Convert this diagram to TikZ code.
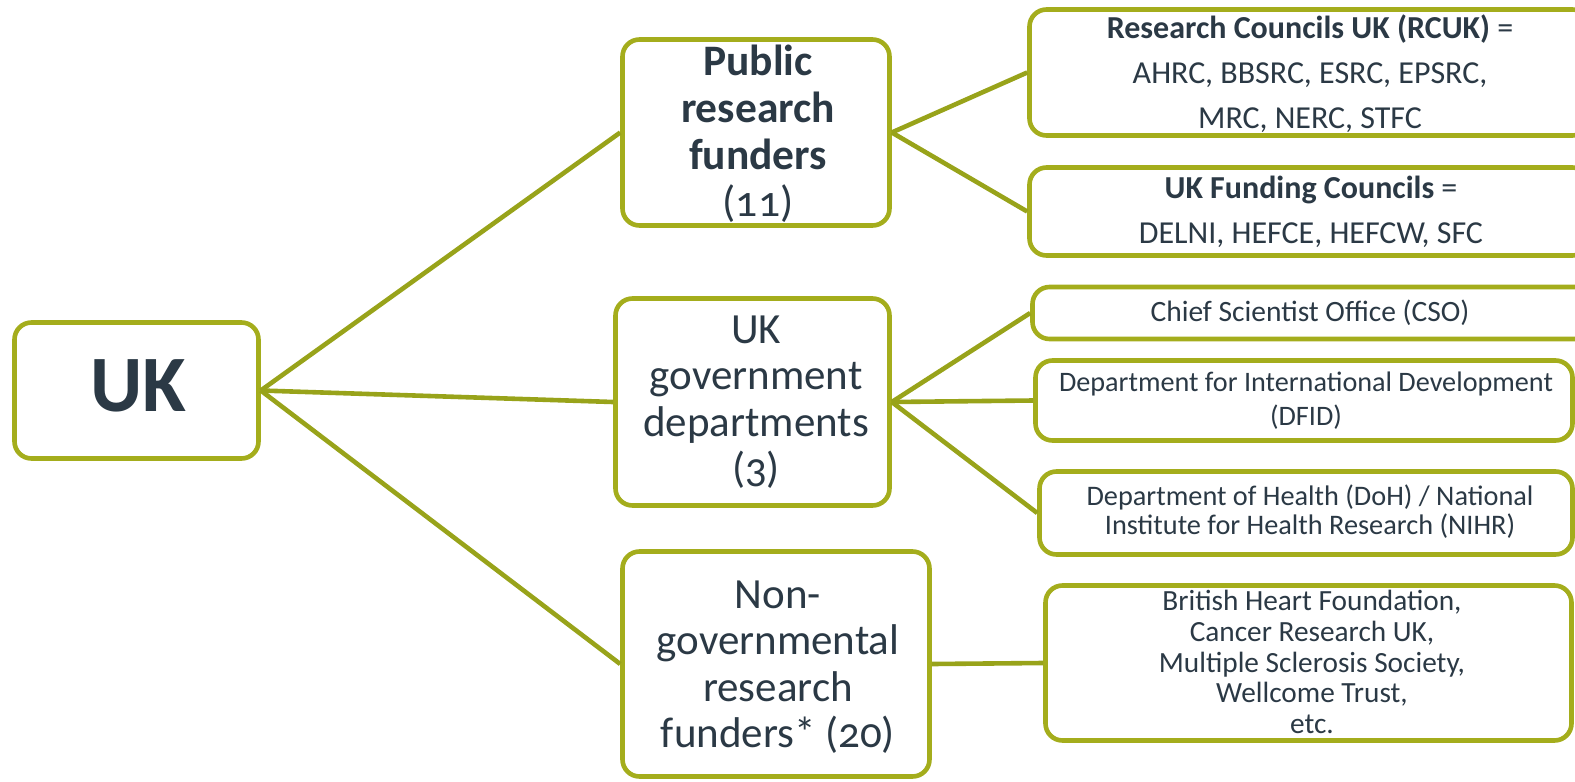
\documentclass[tikz,border=0pt]{standalone}
\usepackage{fontspec}
\setmainfont{Carlito}[Numbers=OldStyle]
\begin{document}
\definecolor{boxline}{RGB}{164,173,28}
\definecolor{linkline}{RGB}{152,163,26}
\definecolor{ink}{RGB}{43,57,69}
\begin{tikzpicture}[x=1pt,y=-1pt,
  box/.style={draw=boxline,line width=4.6pt,fill=white,rounded corners=17pt,
    inner sep=0pt,anchor=center},
  link/.style={draw=linkline,line width=4.6pt},
  txt/.style={text=ink,inner sep=0pt,align=center,anchor=center},
  bigtxt/.style={txt,font=\fontsize{43}{46.5}\selectfont}]
\useasboundingbox (0,0) rectangle (1575,782);
\clip (0,0) rectangle (1575,782);

% left column and middle column boxes
\node[box,minimum width=244pt,minimum height=136pt] (uk) at (136.5,390.5) {};
\node[box,minimum width=267pt,minimum height=186pt] (pub) at (756,132.5) {};
\node[box,minimum width=274pt,minimum height=207pt] (gov) at (752.5,402) {};
\node[box,minimum width=307pt,minimum height=225pt] (ngo) at (776,664) {};

% right column boxes
\node[box,minimum width=560pt,minimum height=126pt] (rcuk) at (1309.5,72.5) {};
\node[box,minimum width=560pt,minimum height=88pt] (fund) at (1309.5,211.5) {};
\node[box,minimum width=560pt,minimum height=52pt] (cso) at (1312.5,313) {};
\node[box,minimum width=537pt,minimum height=80pt] (dfid) at (1304,400.5) {};
\node[box,minimum width=533pt,minimum height=83pt] (doh) at (1306,513) {};
\node[box,minimum width=526pt,minimum height=155pt] (bhf) at (1308.5,663) {};

% connectors
\draw[link] (uk.east) -- (pub.west);
\draw[link] (uk.east) -- (gov.west);
\draw[link] (uk.east) -- (ngo.west);
\draw[link] (pub.east) -- (rcuk.west);
\draw[link] (pub.east) -- (fund.west);
\draw[link] (gov.east) -- (cso.west);
\draw[link] (gov.east) -- (dfid.west);
\draw[link] (gov.east) -- (doh.west);
\draw[link] (ngo.east) -- (bhf.west);

% labels
\node[txt,font=\fontsize{80}{84}\bfseries\selectfont] (ukT) at (138,386) {UK};
\node[txt,font=\fontsize{43.5}{47}\bfseries\selectfont] (pubT) at (758,134) {Public\\research\\funders\\\mdseries(11)};
\node[bigtxt] (govT) at (756,402) {UK\\government\\departments\\(3)};
\node[bigtxt] (ngoT) at (778,667) {Non-\\governmental\\research\\funders* (20)};

\node[txt,font=\fontsize{32}{45}\selectfont] (rcukT) at (1310,74) {\textbf{Research Councils UK (RCUK)} =\\AHRC, BBSRC, ESRC, EPSRC,\\MRC, NERC, STFC};
\node[txt,font=\fontsize{32}{45}\selectfont] (fundT) at (1311,212) {\textbf{UK Funding Councils} =\\DELNI, HEFCE, HEFCW, SFC};
\node[txt,font=\fontsize{29.5}{33}\selectfont] (csoT) at (1310,313) {Chief Scientist Office (CSO)};
\node[txt,font=\fontsize{28.2}{34}\selectfont] (dfidT) at (1306,401) {Department for International Development\\(DFID)};
\node[txt,font=\fontsize{28.3}{29}\selectfont] (dohT) at (1310,512) {Department of Health (DoH) / National\\Institute for Health Research (NIHR)};
\node[txt,font=\fontsize{29.3}{30.7}\selectfont] (bhfT) at (1312,662) {British Heart Foundation,\\Cancer Research UK,\\Multiple Sclerosis Society,\\Wellcome Trust,\\etc.};
\end{tikzpicture}
\end{document}
